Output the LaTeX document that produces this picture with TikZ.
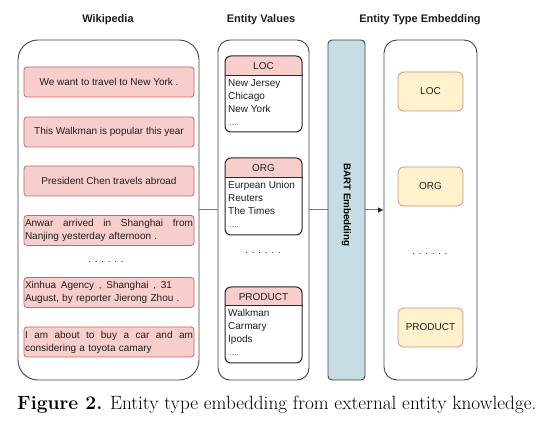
\documentclass[tikz,border=0pt]{standalone}
\usepackage{fontspec}
\setsansfont{Liberation Sans}
\usetikzlibrary{arrows.meta}
\definecolor{pinkfill}{HTML}{F8CECC}
\definecolor{pinkdraw}{HTML}{C56A63}
\definecolor{yelfill}{HTML}{FFF2CC}
\definecolor{yeldraw}{HTML}{DC8E7E}
\definecolor{bartfill}{HTML}{C6DDE4}
\definecolor{framecol}{HTML}{444444}
\definecolor{linecol}{HTML}{777777}
\definecolor{txt}{HTML}{1E1E1E}
\tikzset{
  x=1pt, y=-1pt,
  base/.style={font=\sffamily\fontsize{10}{13}\selectfont, text=txt},
  ttl/.style={font=\sffamily\bfseries\fontsize{11}{13}\selectfont, text=txt},
  container/.style={draw=framecol, line width=0.9pt, fill=white, minimum height=340pt, inner sep=0pt},
  sent/.style={base, draw=pinkdraw, fill=pinkfill, line width=0.8pt, rounded corners=3pt, minimum width=170pt, minimum height=30pt, inner sep=1pt},
  evbox/.style={draw=black!85, line width=1pt, rounded corners=6pt, minimum width=77pt, inner sep=0pt},
  hdr/.style={base, inner sep=0pt},
  lst/.style={base, align=left, inner sep=0pt, anchor=north west},
  ybox/.style={base, draw=yeldraw, fill=yelfill, line width=0.8pt, rounded corners=6pt, minimum width=65pt, minimum height=39pt, inner sep=0pt},
  dots/.style={base},
  conn/.style={draw=linecol, line width=1pt},
  arr/.style={conn, -{Triangle[length=5pt,width=5pt,color=black!85]}, shorten >=0.5pt}
}
\newcommand{\smalldots}{{\fontsize{6}{8}\selectfont ......}}
\begin{document}
\begin{tikzpicture}
\useasboundingbox (0,0) rectangle (536,422);
\fill[white] (0,0) rectangle (536,422);

% titles
\node[ttl] (t1) at (108,20) {Wikipedia};
\node[ttl] (t2) at (261,20) {Entity Values};
\node[ttl] (t3) at (420,20) {Entity Type Embedding};

% containers
\node[container, minimum width=181pt, rounded corners=20pt] (wiki) at (108.5,210) {};
\node[container, minimum width=91pt, rounded corners=12pt] (ev) at (263.5,210) {};
\node[container, minimum width=37pt, rounded corners=4pt, fill=bartfill] (bart) at (346.5,210) {};
\node[container, minimum width=93pt, rounded corners=13pt] (et) at (430.5,210) {};

% connectors
\draw[conn] (wiki.east) -- (ev.west);
\draw[conn] (ev.east) -- (bart.west);
\draw[arr] (bart.east) -- (et.west);

% BART label
\node[font=\sffamily\bfseries\fontsize{9.8}{11}\selectfont, text=black, rotate=-90] (bartl) at (346.5,205) {BART Embedding};

% sentences
\node[sent] (s1) at (109,82) {We want to travel to New York .};
\node[sent] (s2) at (109,132) {This Walkman is popular this year};
\node[sent] (s3) at (109,181) {President Chen travels abroad};
\node[sent, text width=168pt, align=left] (s4) at (109,230.5) {\hbox to 168pt{Anwar\hfill arrived\hfill in\hfill Shanghai\hfill from}\\Nanjing yesterday afternoon .};
\node[dots] (d1) at (106,262) {. . . . . .};
\node[sent, text width=168pt, align=left] (s5) at (109,292.5) {\hbox to 147pt{Xinhua\hfill Agency\hfill ,\hfill Shanghai\hfill ,\hfill 31}\\August, by reporter Jierong Zhou .};
\node[sent, text width=168pt, align=left] (s6) at (109,342) {\hbox to 168pt{I\hfill am\hfill about\hfill to\hfill buy\hfill a\hfill car\hfill and\hfill am}\\considering a toyota camary};

% entity value boxes
\begin{scope}
\clip[rounded corners=6pt] (225,56) rectangle (302,132);
\fill[pinkfill] (225,56) rectangle (302,76);
\end{scope}
\node[evbox, minimum height=76pt] (loc) at (263.5,94) {};
\draw[black!85, line width=1pt] (loc.west |- 0,76) -- (loc.east |- 0,76);
\node[hdr] (loch) at (263.5,66.5) {LOC};
\node[lst] (locl) at (228,79) {New Jersey\\Chicago\\New York\\\smalldots};

\begin{scope}
\clip[rounded corners=6pt] (225,158) rectangle (302,235);
\fill[pinkfill] (225,158) rectangle (302,178);
\end{scope}
\node[evbox, minimum height=77pt] (org) at (263.5,196.5) {};
\draw[black!85, line width=1pt] (org.west |- 0,178) -- (org.east |- 0,178);
\node[hdr] (orgh) at (263.5,168.5) {ORG};
\node[lst] (orgl) at (228,181) {Eurpean Union\\Reuters\\The Times\\\smalldots};

\node[dots] (d2) at (263,253) {. . . . . .};

\begin{scope}
\clip[rounded corners=6pt] (225,287) rectangle (302,363);
\fill[pinkfill] (225,287) rectangle (302,306);
\end{scope}
\node[evbox, minimum height=76pt] (prod) at (263.5,325) {};
\draw[black!85, line width=1pt] (prod.west |- 0,306) -- (prod.east |- 0,306);
\node[hdr] (prodh) at (263.5,297) {PRODUCT};
\node[lst] (prodl) at (228,309) {Walkman\\Carmary\\Ipods\\\smalldots};

% entity type embeddings
\node[ybox] (e1) at (430.5,91.5) {LOC};
\node[ybox] (e2) at (430.5,186.5) {ORG};
\node[dots] (d3) at (430,254) {. . . . . .};
\node[ybox] (e3) at (430.5,327.5) {PRODUCT};

% caption
\node[anchor=west, inner sep=0pt, font=\fontsize{19.2}{22}\selectfont] (cap) at (17,405) {\textbf{Figure 2.} Entity type embedding from external entity knowledge.};
\end{tikzpicture}
\end{document}
